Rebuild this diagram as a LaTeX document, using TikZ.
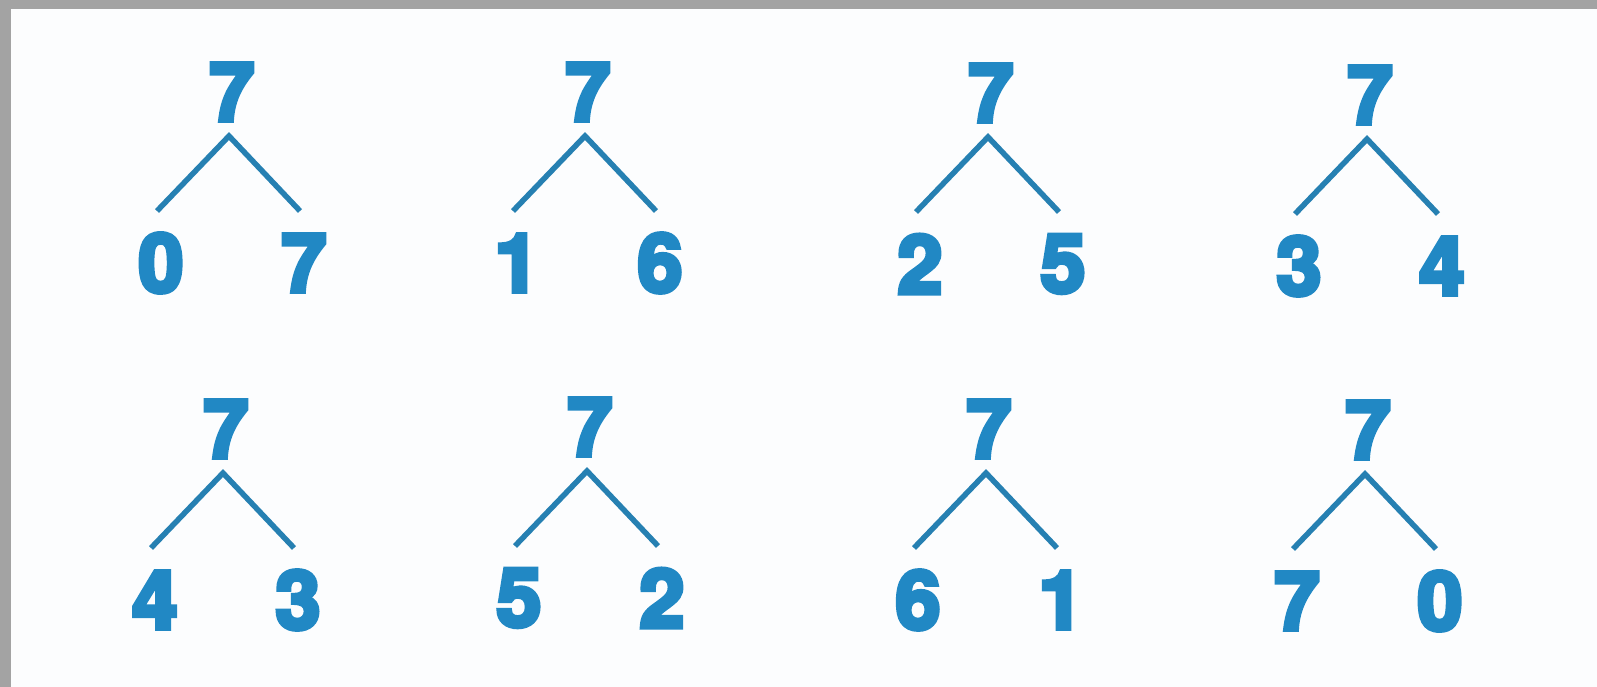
\documentclass[tikz,border=0pt]{standalone}
\usepackage{fontspec}
\newfontfamily\digitfont{texgyreheros}[Extension=.otf, UprightFont=*-bold, BoldFont=*-bold, FakeBold=5.5]
\usetikzlibrary{calc}
\definecolor{digitblue}{RGB}{33,136,196}
\definecolor{lineblue}{RGB}{38,128,178}
\definecolor{framegray}{RGB}{163,163,163}
\definecolor{paper}{RGB}{252,253,254}
\tikzset{
  num/.style={text=digitblue, font=\digitfont\fontsize{81}{81}\selectfont, inner sep=0pt, anchor=center},
  branch/.style={draw=lineblue, line width=5.5pt, line cap=butt, line join=miter},
}
\newcommand{\splittree}[5]{%
  % #1 name, #2 apex x, #3 apex y, #4 left number, #5 right number
  \coordinate (#1a) at (#2,#3);
  \coordinate (#1l) at ($(#1a)+(-72,75)$);
  \coordinate (#1r) at ($(#1a)+(71,75)$);
  \node[num] (#1t) at ($(#1a)+(3,-44)$) {7};
  \node[num] (#1p) at ($(#1a)+(-68,127)$) {#4};
  \node[num] (#1q) at ($(#1a)+(75,127)$) {#5};
  \draw[branch] (#1l) -- (#1a) -- (#1r);
}
\begin{document}
\begin{tikzpicture}[x=1pt,y=-1pt]
\useasboundingbox (0,0) rectangle (1597,687);
\fill[paper] (0,0) rectangle (1597,687);
\fill[framegray] (0,0) rectangle (1597,9);
\fill[framegray] (0,0) rectangle (11,687);
\splittree{A}{229}{136}{0}{7}
\splittree{B}{585}{136}{1}{6}
\splittree{C}{988}{137}{2}{5}
\splittree{D}{1367}{139}{3}{4}
\splittree{E}{223}{473}{4}{3}
\splittree{F}{587}{471}{5}{2}
\splittree{G}{986}{473}{6}{1}
\splittree{H}{1365}{474}{7}{0}
\end{tikzpicture}
\end{document}
